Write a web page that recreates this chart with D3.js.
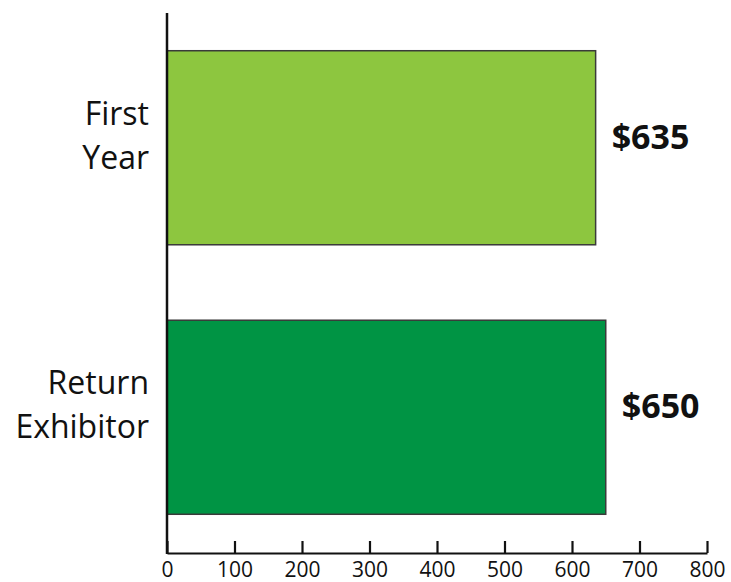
<!DOCTYPE html>
<html><head><meta charset="utf-8">
<script src="https://cdn.jsdelivr.net/npm/d3@7"></script>
<style>html,body{margin:0;padding:0;background:#fff;}svg{display:block;}</style>
</head><body>
<svg id="c" width="731" height="582"></svg>
<script>
const categories = [["First","Year"],["Return","Exhibitor"]];
const values = [635, 650];
const valueLabels = ["$635", "$650"];
const colors = ["#8dc63f", "#009444"];
const tickValues = [0,100,200,300,400,500,600,700,800];

const svg = d3.select("#c");
const x = d3.scaleLinear().domain([0,800]).range([167,707]);
const y = d3.scaleBand().domain([0,1]).range([13,552]).paddingInner(0.28).paddingOuter(0.14);

// bars
svg.selectAll("rect.bar").data(values).join("rect")
  .attr("x", x(0)).attr("y",(d,i)=>y(i))
  .attr("width", d=>x(d)-x(0)).attr("height", y.bandwidth())
  .attr("fill",(d,i)=>colors[i]).attr("stroke","#3a3a3a").attr("stroke-width",1.5);

// y axis line
svg.append("line").attr("x1",x(0)).attr("x2",x(0)).attr("y1",13).attr("y2",554)
  .attr("stroke","#111").attr("stroke-width",2.5);

// x axis
const xAxis = d3.axisBottom(x).tickValues(tickValues).tickSize(0).tickPadding(0);
const gx = svg.append("g").attr("transform","translate(0,553)").call(xAxis);
gx.select(".domain").attr("stroke","#111").attr("stroke-width",2.2);
gx.selectAll(".tick line").attr("y1",0).attr("y2",-12).attr("stroke","#111").attr("stroke-width",2.2);
gx.selectAll(".tick text").attr("y",24).attr("dy",0)
  .attr("font-family","Open Sans").attr("font-size",21).attr("fill","#111");

// category labels
const lab = svg.selectAll("text.cat").data(categories).join("text")
  .attr("class","cat").attr("text-anchor","end")
  .attr("font-family","Open Sans").attr("font-size",32).attr("fill","#111");
lab.each(function(d,i){
  const c = y(i)+y.bandwidth()/2;
  d3.select(this).selectAll("tspan").data(d).join("tspan")
    .attr("x",149).attr("y",(t,j)=> c - 23 + j*44).text(t=>t);
});

// value labels
svg.selectAll("text.val").data(values).join("text")
  .attr("class","val")
  .attr("x",d=>x(d)+16).attr("y",(d,i)=>y(i)+y.bandwidth()/2+1)
  .attr("font-family","Open Sans").attr("font-weight","bold").attr("font-size",34).attr("fill","#111")
  .text((d,i)=>valueLabels[i]);
</script>
</body></html>
